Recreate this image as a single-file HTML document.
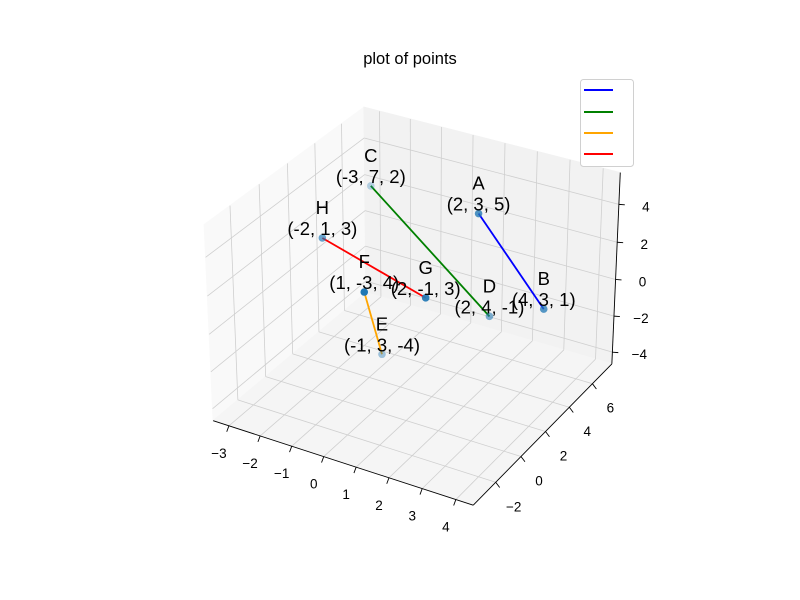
<!DOCTYPE html>
<html><head><meta charset="utf-8"><style>
html,body{margin:0;padding:0;background:#fff;}
svg{display:block;font-family:"Liberation Sans","DejaVu Sans",sans-serif;}
</style></head><body>
<svg id="chart" width="800" height="600" viewBox="0 0 800 600">
<rect width="800" height="600" fill="#fff"/>
<text x="410" y="64" text-anchor="middle" font-size="16.5" fill="#000">plot of points</text>
<g id="panes"></g><g id="grid"></g><g id="axes"></g><g id="series"></g><g id="labels"></g>
<g>
<rect x="580.5" y="79.5" width="53" height="87" rx="3" fill="#fff" stroke="#d0d0d0" stroke-width="1"/>
<line x1="584" y1="90" x2="613" y2="90" stroke="blue" stroke-width="2"/>
<line x1="584" y1="112" x2="613" y2="112" stroke="green" stroke-width="2"/>
<line x1="584" y1="133" x2="613" y2="133" stroke="orange" stroke-width="2"/>
<line x1="584" y1="154" x2="613" y2="154" stroke="red" stroke-width="2"/>
</g>
</svg>
<script>
const pointNames = ["A","B","C","D","E","F","G","H"];
const xVals = [2, 4, -3, 2, -1, 1, 2, -2];
const yVals = [3, 3, 7, 4, 3, -3, -1, 1];
const zVals = [5, 1, 2, -1, -4, 4, 3, 3];
const segFrom = [0, 2, 5, 6];
const segTo = [1, 3, 4, 7];
const segColors = ["blue", "green", "orange", "red"];
const xTicks = [-3, -2, -1, 0, 1, 2, 3, 4];
const yTicks = [-2, 0, 2, 4, 6];
const zTicks = [-4, -2, 0, 2, 4];

const NS = "http://www.w3.org/2000/svg";
function ext(arr){let mn=Math.min(...arr),mx=Math.max(...arr);let r=mx-mn;mn-=r*0.05;mx+=r*0.05;r=mx-mn;return [mn-r/48,mx+r/48];}
const [xmin,xmax]=ext(xVals),[ymin,ymax]=ext(yVals),[zmin,zmax]=ext(zVals);
const BA=[1.1428,1.1428,0.857];
const E=[0.5714+4.3301,0.5714-7.5,0.4286+5];
const U=[0.8660,0.5,0],V=[-0.25,0.4330,0.8660],W=[0.4330,-0.75,0.5];
const S=2608,CX=416,CY=297;
function proj(x,y,z){
  const p=[(x-xmin)/(xmax-xmin)*BA[0],(y-ymin)/(ymax-ymin)*BA[1],(z-zmin)/(zmax-zmin)*BA[2]];
  const d=[p[0]-E[0],p[1]-E[1],p[2]-E[2]];
  const xv=d[0]*U[0]+d[1]*U[1]+d[2]*U[2];
  const yv=d[0]*V[0]+d[1]*V[1]+d[2]*V[2];
  const zv=d[0]*W[0]+d[1]*W[1]+d[2]*W[2];
  return [CX+S*xv/(-zv), CY-S*yv/(-zv), -zv];
}
function mk(tag,attrs,parent){const e=document.createElementNS(NS,tag);for(const k in attrs)e.setAttribute(k,attrs[k]);parent.appendChild(e);return e;}
function poly(pts){return pts.map(p=>p[0].toFixed(1)+","+p[1].toFixed(1)).join(" ");}

const panes=document.getElementById("panes");
let pe;
pe=mk("polygon",{points:poly([proj(xmin,ymin,zmin),proj(xmin,ymax,zmin),proj(xmin,ymax,zmax),proj(xmin,ymin,zmax)]),fill:"#f9f9f9",stroke:"#f9f9f9"},panes);


pe=mk("polygon",{points:poly([proj(xmin,ymax,zmin),proj(xmax,ymax,zmin),proj(xmax,ymax,zmax),proj(xmin,ymax,zmax)]),fill:"#f2f2f2",stroke:"#f2f2f2"},panes);


pe=mk("polygon",{points:poly([proj(xmin,ymin,zmin),proj(xmax,ymin,zmin),proj(xmax,ymax,zmin),proj(xmin,ymax,zmin)]),fill:"#f5f5f5",stroke:"#f5f5f5"},panes);



const grid=document.getElementById("grid");
function gl(a,b,name){const p=proj(...a),q=proj(...b);const l=mk("line",{x1:p[0],y1:p[1],x2:q[0],y2:q[1],stroke:"#cfcfcf","stroke-width":0.8},grid);

}
xTicks.forEach(t=>{gl([t,ymin,zmin],[t,ymax,zmin],'x-gridline');gl([t,ymax,zmin],[t,ymax,zmax],'x-gridline');});
yTicks.forEach(t=>{gl([xmin,t,zmin],[xmax,t,zmin],'y-gridline');gl([xmin,t,zmin],[xmin,t,zmax],'y-gridline');});
zTicks.forEach(t=>{gl([xmin,ymin,t],[xmin,ymax,t],'z-gridline');gl([xmin,ymax,t],[xmax,ymax,t],'z-gridline');});

const axes=document.getElementById("axes");
function axline(a,b,name){const p=proj(...a),q=proj(...b);const l=mk("line",{x1:p[0],y1:p[1],x2:q[0],y2:q[1],stroke:"#000","stroke-width":0.9},axes);

}
axline([xmin,ymin,zmin],[xmax,ymin,zmin],'x-axis-line');
axline([xmax,ymin,zmin],[xmax,ymax,zmin],'y-axis-line');
axline([xmax,ymax,zmin],[xmax,ymax,zmax],'z-axis-line');
function tick(p,dx,dy,txt,name){
  const l=mk("line",{x1:p[0],y1:p[1],x2:p[0]+dx*0.22,y2:p[1]+dy*0.22,stroke:"#000","stroke-width":0.9},axes);
  
  
  const t=mk("text",{x:p[0]+dx,y:p[1]+dy+5,"text-anchor":"middle","font-size":13.5,fill:"#000"},axes);
  t.textContent=String(txt).replace("-","\u2212");
  
  
}
xTicks.forEach(t=>tick(proj(t,ymin,zmin),-10,27,t,'x'));
yTicks.forEach(t=>tick(proj(xmax,t,zmin),18,24,t,'y'));
zTicks.forEach(t=>tick(proj(xmax,ymax,t),27,2,t,'z'));

const series=document.getElementById("series");
segFrom.forEach((f,i)=>{
  const p=proj(xVals[f],yVals[f],zVals[f]),q=proj(xVals[segTo[i]],yVals[segTo[i]],zVals[segTo[i]]);
  const l=mk("line",{x1:p[0],y1:p[1],x2:q[0],y2:q[1],stroke:segColors[i],"stroke-width":1.8},series);
  
  
});
const P=pointNames.map((n,i)=>proj(xVals[i],yVals[i],zVals[i]));
const depths=P.map(p=>p[2]);const dmin=Math.min(...depths),dmax=Math.max(...depths);
const labels=document.getElementById("labels");
pointNames.forEach((n,i)=>{
  const p=P[i];const a=1-0.7*(p[2]-dmin)/(dmax-dmin);
  const c=mk("circle",{cx:p[0],cy:p[1],r:3.8,fill:"#1f77b4","fill-opacity":a.toFixed(2)},series);
  
  
  const t1=mk("text",{x:p[0],y:p[1]-24,"text-anchor":"middle","font-size":18.5,fill:"#000"},labels);
  t1.textContent=n;
  
  
  const t2=mk("text",{x:p[0],y:p[1]-3,"text-anchor":"middle","font-size":18.5,fill:"#000"},labels);
  t2.textContent="("+xVals[i]+", "+yVals[i]+", "+zVals[i]+")";
  
  
});
</script>
</body></html>
